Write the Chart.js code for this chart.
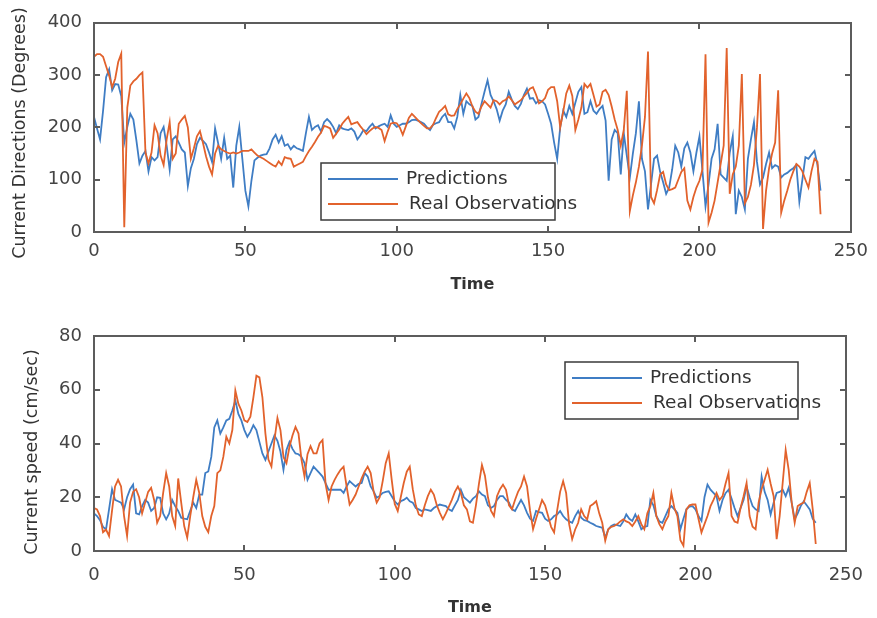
<!DOCTYPE html>
<html>
<head>
<meta charset="utf-8">
<title>Current directions and speed</title>
<script src="https://cdn.jsdelivr.net/npm/chart.js@4.4.0/dist/chart.umd.min.js"></script>
<style>
  body { margin: 0; background: #fff; width: 877px; height: 618px; overflow: hidden; position: relative; }
  canvas { position: absolute; left: 0; }
  #dirChart { top: 0; }
  #spdChart { top: 310px; }
</style>
</head>
<body>
<canvas id="dirChart" width="877" height="310"></canvas>
<canvas id="spdChart" width="877" height="308"></canvas>
<script>
// x positions (time step index)
const timeSteps = Array.from({ length: 241 }, (_, i) => i);
const xTicks = [0, 50, 100, 150, 200, 250];
const dirTicks = [0, 100, 200, 300, 400];
const spdTicks = [0, 20, 40, 60, 80];

// Current directions (degrees)
const dirPred = [
  220, 198, 177, 232, 296, 311, 271, 283, 282, 260,
  171, 201, 226, 215, 175, 131, 146, 155, 116, 143,
  137, 143, 189, 201, 165, 119, 177, 183, 171, 158,
  152, 88, 122, 140, 168, 180, 174, 168, 152, 134,
  198, 170, 140, 180, 140, 146, 85, 165, 201, 140,
  79, 49, 98, 137, 142, 146, 148, 149, 160, 177,
  186, 171, 183, 165, 168, 158, 165, 160, 158, 155,
  189, 220, 195, 201, 204, 192, 210, 216, 210, 201,
  189, 204, 198, 196, 195, 198, 192, 177, 185, 195,
  193, 201, 207, 198, 202, 205, 207, 201, 223, 207,
  201, 204, 207, 207, 210, 214, 215, 213, 210, 207,
  200, 195, 205, 208, 210, 220, 226, 210, 210, 198,
  220, 262, 226, 250, 244, 241, 215, 220, 245, 268,
  290, 262, 250, 235, 213, 232, 244, 268, 253, 241,
  235, 245, 262, 274, 255, 256, 246, 252, 250, 244,
  226, 207, 171, 140, 200, 232, 220, 241, 226, 247,
  268, 277, 226, 229, 250, 232, 226, 235, 241, 213,
  98, 177, 195, 189, 110, 189, 146, 104, 150, 189,
  250, 140, 116, 43, 91, 140, 146, 115, 95, 73,
  85, 120, 165, 152, 125, 160, 171, 152, 116, 152,
  183, 116, 49, 91, 140, 158, 207, 110, 104, 98,
  152, 183, 34, 79, 67, 43, 140, 177, 210, 134,
  91, 104, 130, 152, 122, 128, 125, 104, 110, 113,
  118, 122, 128, 58, 100, 143, 140, 148, 155, 128,
  79
];
const dirReal = [
  335, 340, 340, 335, 317, 299, 277, 293, 325, 341,
  9, 238, 280, 288, 293, 300, 305, 152, 131, 152,
  204, 189, 146, 128, 177, 210, 140, 150, 207, 215,
  222, 200, 140, 160, 183, 193, 170, 145, 125, 110,
  150, 165, 158, 155, 152, 150, 152, 150, 152, 155,
  155, 155, 158, 152, 146, 143, 140, 136, 132, 128,
  125, 135, 128, 143, 141, 140, 125, 128, 131, 134,
  145, 155, 163, 172, 182, 190, 203, 201, 198, 180,
  188, 196, 207, 214, 220, 206, 208, 210, 202, 195,
  187, 193, 198, 201, 199, 195, 174, 192, 207, 209,
  208, 200, 186, 202, 218, 226, 220, 214, 208, 203,
  198, 198, 205, 218, 230, 235, 241, 225, 222, 223,
  235, 244, 255, 265, 256, 240, 230, 226, 240, 250,
  244, 238, 252, 250, 244, 250, 253, 259, 252, 244,
  248, 252, 259, 266, 274, 277, 263, 246, 250, 256,
  272, 277, 277, 250, 200, 230, 265, 280, 260, 195,
  215, 238, 283, 276, 283, 262, 240, 244, 268, 272,
  262, 240, 215, 195, 165, 195, 270, 40, 70, 95,
  125, 165, 220, 345, 67, 55, 80, 110, 115, 91,
  80, 82, 85, 100, 115, 122, 60, 43, 67, 85,
  98, 120, 340, 18, 37, 60, 95, 130, 165, 352,
  73, 110, 125, 165, 302, 55, 67, 90, 128, 200,
  302, 6, 79, 122, 150, 171, 271, 37, 60, 79,
  100, 116, 130, 125, 116, 100, 85, 116, 140, 134,
  34
];

// Current speed (cm/sec)
const spdPred = [
  14, 13, 11.5, 9, 8, 15.5, 23, 19, 18.5, 18,
  15.5, 20, 23, 24.7, 14, 13.6, 16.7, 19, 18, 14.9,
  16, 20, 19.8, 14, 11.8, 14, 19, 16.7, 14.9, 12.4,
  12, 11.8, 15, 18, 16, 21, 21, 29, 29.6, 35,
  46, 48.6, 43.7, 46, 48.6, 49.2, 52.3, 56, 51, 48.6,
  45, 42.5, 44.3, 46.8, 45, 40.6, 36.3, 33.9, 37, 40,
  43, 41, 37, 30.2, 37.6, 40.6, 38, 36.3, 36, 35,
  32.7, 26.5, 29, 31.4, 30.2, 29, 27.7, 25.3, 22.8, 22.8,
  22.8, 22.8, 22.8, 21.6, 24, 26, 25, 24, 25, 25.3,
  29, 27.7, 24, 22.2, 19.8, 20.5, 21.6, 22, 22.2, 20.4,
  18.5, 17.3, 18.5, 19, 19.8, 18.5, 18, 16, 15.5, 14.9,
  15.5, 15.2, 14.9, 16, 16.7, 17.3, 17, 16.7, 15.5, 14.9,
  17, 19, 22.8, 20, 19, 18, 19.5, 20.4, 22.2, 21,
  20.4, 17, 16, 16.7, 19, 20.4, 20.4, 19, 18, 15.5,
  14.9, 17, 19, 17, 14.2, 12, 11.2, 14.9, 14.5, 14.2,
  12, 11.2, 11.8, 13, 13.6, 14.9, 13, 11.8, 11, 10.5,
  13, 14.9, 12.4, 11.5, 11.2, 10.5, 10, 9.3, 9, 8.7,
  5, 8, 9.3, 9.9, 9.6, 9.3, 11, 13.6, 12, 11.2,
  13.6, 11, 8.1, 9, 9.3, 19, 17, 13, 11, 10.5,
  13, 15.5, 16.7, 15.5, 14.2, 8.1, 12, 15.5, 16.5, 16.7,
  15.5, 13, 11.2, 20, 24.7, 22.8, 21.6, 20.4, 14.9, 19,
  21.5, 22.8, 19.5, 16, 13, 16, 19, 24, 20, 16.7,
  15.5, 14.9, 27.7, 22, 19, 13.6, 18, 21.6, 22, 22.8,
  20.4, 23.5, 18, 11.8, 14, 16.7, 18.5, 17, 15.5, 12,
  10.5
];
const spdReal = [
  16, 15.5, 13, 7, 8, 5.6, 15, 24, 26.5, 24,
  13, 5.6, 18, 22, 23, 20, 14, 18, 22, 23.5,
  19, 10.5, 13, 21.6, 29, 24, 13, 9.3, 27, 18,
  9.3, 5, 13, 20, 26.5, 21.6, 13, 9, 7, 13,
  16.7, 29, 30, 35, 42.5, 40, 45, 59.7, 54.8, 52.3,
  48.6, 48, 50, 57.2, 65.2, 64.6, 57.2, 43.7, 34, 31.4,
  41.3, 49.5, 45, 35, 32.7, 38.8, 43, 46.2, 43.7, 33.9,
  27.7, 36, 39, 36.3, 36.3, 40, 41.3, 25, 19, 24,
  26.5, 28.5, 30.2, 31.4, 24, 17.3, 19, 21, 24, 27,
  29.5, 31.4, 29, 22, 18, 20, 26, 32.7, 36.3, 26.5,
  17.5, 14.9, 20, 25.3, 29.5, 31.4, 23, 17, 13.6, 13,
  17, 20.4, 22.8, 21, 17, 14.2, 11.8, 14, 16.5, 19,
  22, 24, 21.6, 17, 15.5, 11, 10.5, 17, 25, 32,
  28, 20, 15, 13, 20.4, 23, 24.7, 22.8, 17, 15.5,
  19, 22, 24, 27.7, 24, 15, 8.1, 12, 15.5, 19,
  17, 13, 9, 6.9, 15, 22, 26, 21.6, 10, 4.4,
  8, 10.5, 15.5, 13, 11.8, 16.7, 17.5, 18.5, 14, 10.5,
  3.8, 8.1, 9, 9.3, 10, 11, 11.8, 11, 10.5, 9.3,
  11, 13, 10, 8.1, 14, 16.7, 21.6, 13, 10, 8.1,
  11, 13, 21.6, 16, 13, 4, 2, 15.5, 17, 17.3,
  17.3, 12, 6.9, 10, 13, 16.7, 19, 21.6, 19, 20.4,
  25, 29, 13, 11, 10.5, 16, 20.4, 25.3, 13, 9,
  8.1, 18, 23, 26.5, 30.2, 25, 20.4, 4.4, 13, 25.3,
  37.6, 30.2, 18, 10.5, 16.7, 17.5, 18, 22, 25.3, 15.5,
  2.6
];

const BLUE = '#3f7dc4';
const ORANGE = '#e2622c';
const FONT = 'DejaVu Sans';
const FRAME = '#5c5c5c';

function toPoints(values) {
  return timeSteps.map((t, i) => ({ x: t, y: values[i] }));
}

function useTicks(list) {
  return scale => { scale.ticks = list.map(v => ({ value: v })); };
}

// axes box with inward ticks, boxed legend, y title
const decorPlugin = {
  id: 'decor',
  afterDraw(chart, args, opts) {
    const ctx = chart.ctx;
    const x = chart.scales.x;
    const y = chart.scales.y;
    const yt = opts.yTicks;
    const L = Math.round(x.getPixelForValue(xTicks[0]));
    const R = Math.round(x.getPixelForValue(xTicks[xTicks.length - 1]));
    const T = Math.round(y.getPixelForValue(yt[yt.length - 1]));
    const B = Math.round(y.getPixelForValue(yt[0]));
    ctx.save();
    ctx.globalAlpha = 1;
    ctx.fillStyle = FRAME;
    ctx.fillRect(L - 1, T - 1, R - L + 2, 2);
    ctx.fillRect(L - 1, B - 1, R - L + 2, 2);
    ctx.fillRect(L - 1, T - 1, 2, B - T + 2);
    ctx.fillRect(R - 1, T - 1, 2, B - T + 2);
    xTicks.forEach(v => {
      const px = Math.round(x.getPixelForValue(v));
      ctx.fillRect(px - 1, B - 6, 2, 6);
      ctx.fillRect(px - 1, T, 2, 6);
    });
    yt.forEach(v => {
      const py = Math.round(y.getPixelForValue(v));
      ctx.fillRect(L, py - 1, 6, 2);
      ctx.fillRect(R - 6, py - 1, 6, 2);
    });

    const b = opts.box;
    ctx.fillStyle = '#fff';
    ctx.fillRect(b.x, b.y, b.w, b.h);
    ctx.strokeStyle = '#3a3a3a';
    ctx.lineWidth = 1.5;
    ctx.strokeRect(b.x, b.y, b.w, b.h);
    ctx.font = '18.5px "' + FONT + '"';
    ctx.textBaseline = 'middle';
    ctx.textAlign = 'left';
    chart.data.datasets.forEach((ds, i) => {
      const ly = b.y + 16 + i * 25;
      ctx.strokeStyle = ds.borderColor;
      ctx.lineWidth = 1.8;
      ctx.beginPath();
      ctx.moveTo(b.x + 7, ly);
      ctx.lineTo(b.x + 77, ly);
      ctx.stroke();
      ctx.fillStyle = '#333';
      ctx.fillText(ds.label, b.x + 85 + i * 3, ly);
    });

    const t = opts.yTitle;
    ctx.translate(t.x, t.y);
    ctx.rotate(-Math.PI / 2);
    ctx.textAlign = 'center';
    ctx.fillStyle = '#333';
    ctx.font = '17.5px "' + FONT + '"';
    ctx.fillText(t.text, 0, 0);
    ctx.restore();
  }
};

function makeChart(id, pred, real, yTicks, cfg) {
  return new Chart(document.getElementById(id), {
    type: 'line',
    data: {
      datasets: [
        { label: 'Predictions', data: toPoints(pred), borderColor: BLUE, order: 1 },
        { label: 'Real Observations', data: toPoints(real), borderColor: ORANGE, order: 0 }
      ]
    },
    options: {
      responsive: false,
      animation: false,
      parsing: false,
      layout: { padding: { top: cfg.areaTop, right: 21, left: 0, bottom: 0 } },
      elements: {
        point: { radius: 0 },
        line: { borderWidth: 1.8, tension: 0, fill: false }
      },
      plugins: {
        legend: { display: false },
        tooltip: { enabled: false },
        decor: { box: cfg.legend, yTitle: cfg.yTitle, yTicks: yTicks }
      },
      scales: {
        x: {
          type: 'linear',
          min: xTicks[0],
          max: xTicks[xTicks.length - 1],
          afterBuildTicks: useTicks(xTicks),
          afterFit: s => { s.height = cfg.xHeight; },
          grid: { display: false, drawTicks: false },
          border: { display: false },
          ticks: { padding: cfg.xPad, color: '#444', font: { family: FONT, size: 18 } },
          title: {
            display: true, text: 'Time', color: '#333',
            font: { family: FONT, size: 16, weight: 'bold' },
            padding: { top: 0, bottom: cfg.timePad }
          }
        },
        y: {
          min: yTicks[0],
          max: yTicks[yTicks.length - 1],
          afterBuildTicks: useTicks(yTicks),
          afterFit: s => { s.width = 94; },
          grid: { display: false, drawTicks: false },
          border: { display: false },
          ticks: { padding: 12, color: '#444', font: { family: FONT, size: 18 } }
        }
      }
    },
    plugins: [decorPlugin]
  });
}

makeChart('dirChart', dirPred, dirReal, dirTicks, {
  areaTop: 15, xHeight: 78, xPad: 9, timePad: 16,
  legend: { x: 321, y: 163, w: 234, h: 57 },
  yTitle: { text: 'Current Directions (Degrees)', x: 20, y: 133 }
});

makeChart('spdChart', spdPred, spdReal, spdTicks, {
  areaTop: 26, xHeight: 67, xPad: 14, timePad: 1,
  legend: { x: 565, y: 52, w: 233, h: 57 },
  yTitle: { text: 'Current speed (cm/sec)', x: 32, y: 142 }
});
</script>
</body>
</html>
